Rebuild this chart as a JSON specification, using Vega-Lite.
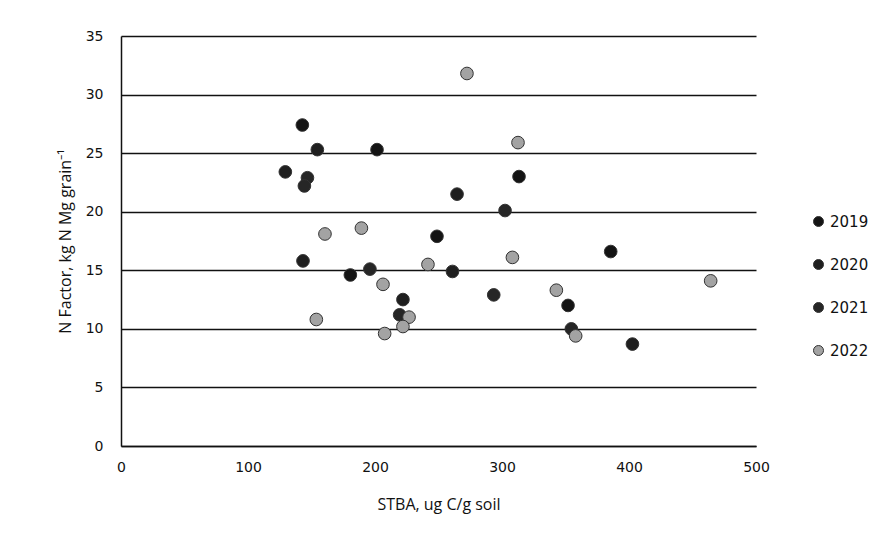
{
  "$schema": "https://vega.github.io/schema/vega-lite/v6.json",
  "autosize": "none",
  "width": 635,
  "height": 410,
  "padding": {"left": 121, "top": 36, "right": 135, "bottom": 112},
  "background": "white",
  "config": {
    "view": {"stroke": null},
    "axis": {
      "labelFont": "DejaVu Sans",
      "labelFontSize": 14,
      "labelColor": "#111",
      "titleFont": "Open Sans",
      "titleFontSize": 16,
      "titleFontWeight": "normal",
      "titleColor": "#111",
      "ticks": false,
      "domainColor": "#111",
      "domainWidth": 1.5
    }
  },
  "data": {
    "values": [
      {"stba": 142.8, "nf": 27.4, "year": "2019"},
      {"stba": 201.6, "nf": 25.3, "year": "2019"},
      {"stba": 313.4, "nf": 23.0, "year": "2019"},
      {"stba": 248.8, "nf": 17.9, "year": "2019"},
      {"stba": 385.6, "nf": 16.6, "year": "2019"},
      {"stba": 352.0, "nf": 12.0, "year": "2019"},
      {"stba": 180.6, "nf": 14.6, "year": "2019"},
      {"stba": 154.6, "nf": 25.3, "year": "2020"},
      {"stba": 129.4, "nf": 23.4, "year": "2020"},
      {"stba": 264.6, "nf": 21.5, "year": "2020"},
      {"stba": 261.0, "nf": 14.9, "year": "2020"},
      {"stba": 222.0, "nf": 12.5, "year": "2020"},
      {"stba": 402.7, "nf": 8.7, "year": "2020"},
      {"stba": 143.3, "nf": 15.8, "year": "2020"},
      {"stba": 146.8, "nf": 22.9, "year": "2021"},
      {"stba": 144.4, "nf": 22.2, "year": "2021"},
      {"stba": 302.4, "nf": 20.1, "year": "2021"},
      {"stba": 196.0, "nf": 15.1, "year": "2021"},
      {"stba": 219.4, "nf": 11.2, "year": "2021"},
      {"stba": 293.5, "nf": 12.9, "year": "2021"},
      {"stba": 354.6, "nf": 10.0, "year": "2021"},
      {"stba": 272.4, "nf": 31.8, "year": "2022"},
      {"stba": 312.6, "nf": 25.9, "year": "2022"},
      {"stba": 160.6, "nf": 18.1, "year": "2022"},
      {"stba": 189.3, "nf": 18.6, "year": "2022"},
      {"stba": 241.7, "nf": 15.5, "year": "2022"},
      {"stba": 308.2, "nf": 16.1, "year": "2022"},
      {"stba": 464.3, "nf": 14.1, "year": "2022"},
      {"stba": 206.3, "nf": 13.8, "year": "2022"},
      {"stba": 226.8, "nf": 11.0, "year": "2022"},
      {"stba": 222.0, "nf": 10.2, "year": "2022"},
      {"stba": 207.6, "nf": 9.6, "year": "2022"},
      {"stba": 342.8, "nf": 13.3, "year": "2022"},
      {"stba": 358.0, "nf": 9.4, "year": "2022"},
      {"stba": 153.8, "nf": 10.8, "year": "2022"}
    ]
  },
  "mark": {"type": "point", "filled": true, "shape": "circle", "size": 160, "opacity": 1, "stroke": "#333", "strokeWidth": 1},
  "encoding": {
    "x": {
      "field": "stba", "type": "quantitative",
      "scale": {"domain": [0, 500], "nice": false},
      "axis": {"values": [0, 100, 200, 300, 400, 500], "grid": false, "labelFlush": false, "labelPadding": 14, "titlePadding": 22, "title": "STBA, ug C/g soil"}
    },
    "y": {
      "field": "nf", "type": "quantitative",
      "scale": {"domain": [0, 35], "nice": false},
      "axis": {"values": [0, 5, 10, 15, 20, 25, 30, 35], "grid": true, "gridColor": "#111", "gridWidth": 1.6, "labelPadding": 18, "titlePadding": 12, "title": "N Factor, kg N Mg grain⁻¹"}
    },
    "color": {
      "field": "year", "type": "nominal",
      "scale": {"domain": ["2019", "2020", "2021", "2022"], "range": ["#141414", "#1f1f1f", "#262626", "#a3a3a3"]},
      "legend": {
        "title": null,
        "orient": "none",
        "legendX": 690,
        "legendY": 178,
        "labelFont": "DejaVu Sans",
        "labelFontSize": 15,
        "labelColor": "#111",
        "symbolSize": 100,
        "symbolType": "circle",
        "symbolStrokeColor": "#333",
        "symbolStrokeWidth": 1,
        "labelOffset": 4,
        "rowPadding": 27
      }
    }
  }
}
